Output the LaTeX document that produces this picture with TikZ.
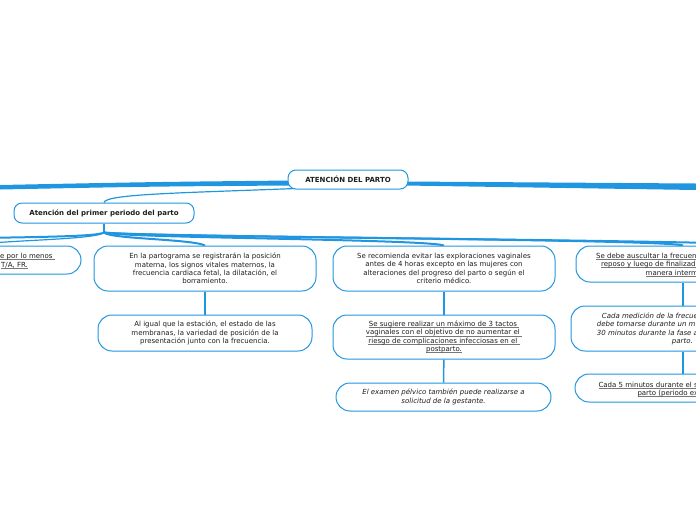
\documentclass[tikz,border=0pt]{standalone}
\usepackage{fontspec}
\setmainfont{DejaVu Sans}
\usetikzlibrary{backgrounds,calc}
\definecolor{bl}{RGB}{33,150,224}
\definecolor{tx}{RGB}{30,30,30}
\definecolor{ulc}{RGB}{120,120,120}
\newcommand{\fs}{\fontsize{7}{8.4}\selectfont}
\newcommand{\myul}[1]{\setbox0\hbox{#1}\rlap{\textcolor{ulc}{\rule[-1.3pt]{\wd0}{0.55pt}}}\box0}
\begin{document}
\begin{tikzpicture}[x=1pt,y=-1pt,
  box/.style={draw=bl, line width=1pt, fill=white, rounded corners=14pt, align=center, font=\fs, text=tx, inner sep=0pt},
  frag/.style={anchor=base west, font=\fs, text=tx, inner sep=0pt},
  link/.style={draw=bl, line width=2pt},
  thin/.style={draw=bl, line width=1.2pt},
  vlink/.style={draw=bl, line width=1.5pt}]
\useasboundingbox (0,0) rectangle (696,520);
\clip (0,0) rectangle (696,520);

% nodes
\node[box, minimum width=120pt, minimum height=19pt, rounded corners=8pt, font=\fs\bfseries] (root) at (348,179.5) {ATENCIÓN DEL PARTO};
\node[box, minimum width=180pt, minimum height=20pt, rounded corners=8pt, font=\fs\bfseries] (n1) at (104,213) {Atención del primer periodo del parto};

\node[box, minimum width=222pt, minimum height=28pt] (nL) at (-30,260) {};
\node[frag] (nLa) at (0,258) {\myul{e por lo menos~}};
\node[frag] (nLb) at (1,267) {\myul{T/A, FR.}};

\node[box, minimum width=222pt, minimum height=45pt] (n2) at (205,268.5) {En la partograma se registrarán la posición\\materna, los signos vitales maternos, la\\frecuencia cardiaca fetal, la dilatación, el\\borramiento.};
\node[box, minimum width=214pt, minimum height=36pt] (n2b) at (205,333) {Al igual que la estación, el estado de las\\membranas, la variedad de posición de la\\presentación junto con la frecuencia.};

\node[box, minimum width=222pt, minimum height=45pt] (n3) at (444,268.5) {Se recomienda evitar las exploraciones vaginales\\antes de 4 horas excepto en las mujeres con\\alteraciones del progreso del parto o según el\\criterio médico.};
\node[box, minimum width=222pt, minimum height=44pt] (n3b) at (444,337) {\myul{Se sugiere realizar un máximo de 3 tactos~}\\\myul{vaginales con el objetivo de no aumentar el~}\\\myul{riesgo de complicaciones infecciosas en el~}\\\myul{postparto.}};
\node[box, minimum width=215pt, minimum height=28pt, font=\fs\itshape] (n3c) at (443.5,397) {El examen pélvico también puede realizarse a\\solicitud de la gestante.};

\node[box, minimum width=214pt, minimum height=36pt] (n4) at (683,264) {};
\node[frag] at (596,258) {\myul{Se debe auscultar la frecuen}};
\node[frag] at (601,266.5) {\myul{reposo y luego de finalizad}};
\node[frag] at (645.5,275.5) {\myul{manera interm}};
\node[box, minimum width=224pt, minimum height=45pt] (n4b) at (683,328.5) {};
\node[frag, font=\fs\itshape] at (601.7,318) {Cada medición de la frecue};
\node[frag, font=\fs\itshape] at (596.7,326.5) {debe tomarse durante un m};
\node[frag, font=\fs\itshape] at (596.7,335) {30 minutos durante la fase a};
\node[frag, font=\fs\itshape] at (671.7,343) {parto.};
\node[box, minimum width=216pt, minimum height=28pt] (n4c) at (683,388) {};
\node[frag] at (598.3,387.3) {\myul{Cada 5 minutos durante el s}};
\node[frag] at (637.3,395.5) {\myul{parto (periodo ex}};

\coordinate (farLa) at (0,185);
\coordinate (farLb) at (0,189.5);
\coordinate (farRa) at (696,183.5);
\coordinate (farRb) at (696,190);
\coordinate (farL) at (-80,239);
\coordinate (farR) at (800,246);

\begin{scope}[on background layer]
\fill[bl] ($(root.west)+(4,1)$) .. controls (150,182) .. (farLa) -- (farLb) .. controls (150,186.5) .. ($(root.west)+(4,6)$) -- cycle;
\fill[bl] ($(root.east)+(-4,2)$) .. controls (550,183) .. (farRa) -- (farRb) .. controls (550,187) .. ($(root.east)+(-4,6)$) -- cycle;
\draw[thin] ($(root.south west)+(8,-1)$) .. controls (180,193) and (106,194) .. (n1.north);
\draw[vlink] (n1.south) -- ++(0,9) coordinate (hub);
\draw[link] (hub) .. controls (110,239) and (192,239) .. (n2.north);
\draw[link] (hub) .. controls (120,238) and (425,239) .. (n3.north);
\draw[link] (hub) .. controls (130,237) and (665,239) .. (n4.north);
\draw[link] (hub) .. controls (140,237) and (720,240) .. (farR);
\draw[link] (hub) .. controls (96,237) and (30,237) .. (farL);
\draw[thin] (hub) .. controls (96,240) and (0,240) .. (nL.north);
\draw[vlink] (n2) -- (n2b);
\draw[vlink] (n3) -- (n3b);
\draw[vlink] (n3b) -- (n3c);
\draw[vlink] (n4) -- (n4b);
\draw[vlink] (n4b) -- (n4c);
\end{scope}
\end{tikzpicture}
\end{document}
